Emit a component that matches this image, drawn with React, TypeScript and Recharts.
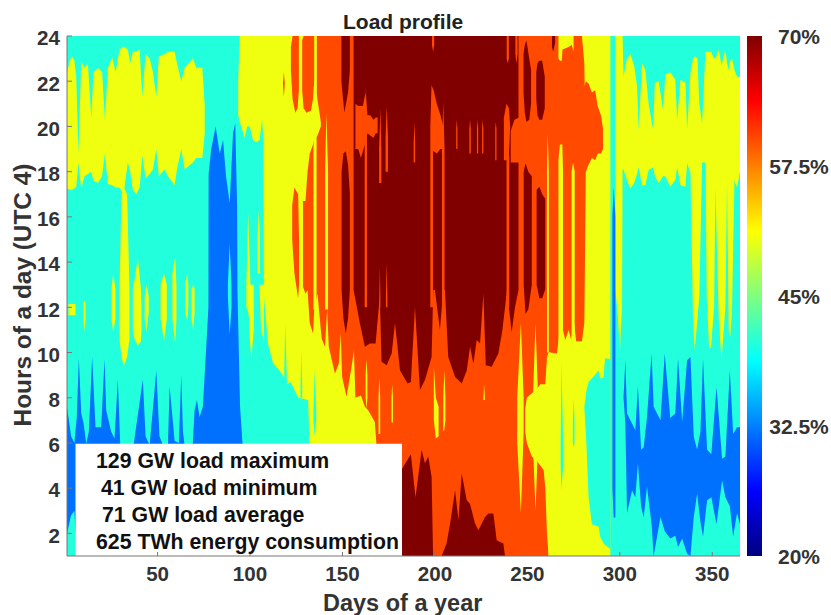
import React from "react";
import { AreaChart, Area, XAxis, YAxis, ReferenceArea } from "recharts";

type Row = number[]; // [day, low hour, high hour]

const CYAN = "#22FFDC";
const BLUE = "#0070FF";
const YELLOW = "#F0FF10";
const ORANGE = "#FF4A00";
const DARK = "#800000";

const dayTicks = [50, 100, 150, 200, 250, 300, 350];
const hourTicks = [2, 4, 6, 8, 10, 12, 14, 16, 18, 20, 22, 24];
const shareTicks = [20, 32.5, 45, 57.5, 70];
const boxLines = ["129 GW load maximum", "41 GW load minimum", "71 GW load average", "625 TWh energy consumption"];

const base: Row[] = [[1, 1, 24], [365, 1, 24]];
const scaleBand: Row[] = [[0, 20, 70], [1, 20, 70]];

const yellowWinter: Row[] = [
  [1, 17.26, 22.37], [2.5, 17.2, 22.9], [3.8, 17.2, 23.1], [5, 17.25, 22.9], [6, 17.33, 22.2], [7.2, 18.37, 18.8], [8.7, 17.26, 22.9], [10.5, 17.8, 22.6],
  [12.3, 17.9, 22.8], [14.1, 18, 20.4], [15.3, 17.6, 22.4], [17.7, 17.5, 22.6], [20, 17.8, 22.4], [21.5, 18.8, 20.3],
  [23.1, 17.45, 22.6], [25.5, 17.4, 23.05], [27.3, 17.3, 22.4], [29.4, 17.3, 23.4], [31.6, 17, 23.55], [33.9, 18.4, 23.4],
  [35.2, 18, 22.8], [36.6, 17.2, 23.3], [38.4, 17, 23.3], [40.3, 17.3, 23.4], [41.7, 18.7, 21.3], [43.5, 17.7, 23.2],
  [45.7, 17.9, 23], [47.5, 18.1, 22.4], [49.3, 19, 21.3], [50.7, 17.8, 23.1], [53.8, 18.1, 23.2], [55.6, 17.8, 23.3],
  [59.2, 17.4, 23.3], [60.5, 18.1, 22.8], [62.8, 19, 22], [64.6, 18.1, 22.6], [69.1, 18.4, 23], [70.9, 18.6, 22.6],
  [74.2, 18.6, 22.6], [75.5, 19.7, 20.9],
];
const yellowColA: Row[] = [[29.4, 10.6, 12.8], [30.5, 9.8, 17], [31.7, 9.4, 17.3], [33.5, 9.8, 17], [34.8, 10.6, 12.8]];
const yellowColB: Row[] = [[36.6, 11, 12.8], [37.5, 10.6, 13.2], [39.3, 10.3, 14.2], [41, 10.5, 12.8], [41.3, 11, 12]];
const yellowColC: Row[] = [[25, 11.5, 12.8], [26, 10.9, 13.5], [27.2, 11.5, 12.8]];
const yellowColD: Row[] = [[43, 11.5, 12.5], [44, 10.9, 13], [45.2, 11.8, 12.5]];
const yellowColE: Row[] = [[51.6, 11.5, 13], [53.5, 10.5, 13.5], [55, 11.5, 13]];
const yellowColF: Row[] = [[58, 11.5, 13.5], [59.5, 10.4, 14.2], [60.2, 11.5, 13]];
const yellowColG: Row[] = [[65, 11.8, 13], [66, 11.4, 13.5], [66.6, 12, 13]];
const yellowColH: Row[] = [[68.3, 11.5, 12.8], [69.3, 11, 13], [70, 11.8, 12.8]];
const yellowSquare: Row[] = [[1.8, 11.65, 12.15], [5.6, 11.65, 12.15]];
const yellowThin: Row[] = [[10, 11.5, 12.2], [10.5, 10.9, 12.3], [11, 11.5, 12.2]];
const yellowSpringA: Row[] = [[98, 12, 13], [99, 11.8, 16.2], [100.2, 11, 13]];
const yellowSpringB: Row[] = [[104, 13.5, 15], [104.7, 13.5, 16.3], [105.4, 13.5, 15]];
const yellowSpringC: Row[] = [[99.5, 11, 13], [100.7, 9.7, 13], [102, 11, 13]];
const yellowSpringD: Row[] = [[105, 13, 13], [106, 11, 13], [107.5, 10.5, 13]];

const yellowCentral: Row[] = [
  [93.6, 20.5, 22], [94.4, 20.2, 24], [96, 19.8, 24], [97, 19.5, 24], [98.5, 20, 24], [99.8, 20, 24], [101.6, 19.4, 24],
  [103.4, 19.3, 24], [105.2, 19.4, 24], [106.5, 20.3, 24], [107.2, 19.5, 24], [107.5, 12.5, 24], [109.7, 10.4, 24],
  [112.5, 9.5, 24], [115, 9.3, 24], [118.5, 8.9, 24], [119, 11.3, 24], [120, 8.6, 24], [122, 8.7, 24], [126, 8, 24],
  [131.4, 7.9, 24], [131.8, 6.9, 24], [132, 6, 24], [132.1, 1, 24], [294.9, 1, 24],
];
const yellowAutumn: Row[] = [
  [297.6, 12.8, 24], [299, 11.5, 24], [300, 10, 24], [301.2, 12, 24], [301.5, 18.1, 24], [302, 18.1, 22.2], [303.9, 17.6, 23],
  [305.7, 17.26, 23.2], [307.8, 17.5, 22.67], [309.3, 17.9, 21.8], [310.2, 18.2, 19.85], [312, 17.4, 22.8], [313.8, 17.4, 22.5],
  [315.6, 18.07, 21], [318, 18.2, 19.85], [318.9, 17.8, 21.93], [321, 17.5, 22], [323.4, 17.8, 20.7], [324.6, 17.8, 22.3],
  [327.3, 17.33, 22.4], [330, 17.63, 22.07], [331, 18.2, 20.3], [332.8, 17.4, 22.07], [335.5, 17.33, 21.93], [336.4, 18.37, 19.85],
  [338.2, 17.93, 22.37], [339.6, 11.5, 23], [340.5, 10.1, 23.1], [342, 11.5, 23], [343, 12.5, 21], [344.5, 18.4, 20.15],
  [346.3, 18.4, 23.3], [347, 12.5, 23.3], [348.3, 10.2, 23.3], [349.3, 10.2, 23.3], [351, 12, 23], [351.7, 17.3, 23],
  [353.5, 11.5, 23.4], [355, 9.66, 22.7], [357.1, 12, 23.4], [358, 17.5, 22.8], [358.9, 11, 22.5], [359.8, 10.7, 22.9],
  [360.7, 12, 23], [362, 17.6, 22.5], [363.4, 17.3, 22.2], [365, 18, 22.2],
];

const cyanPatch: Row[] = [
  [280.8, 7.6, 7.6], [281.9, 6, 8.3], [283.1, 3.6, 8.7], [284.9, 2.4, 8.85], [288.5, 2.3, 9.2], [289.4, 1.85, 8.85],
  [291.2, 1.55, 8.9], [292, 1.5, 9.75], [294.9, 1.3, 9.7],
];
const cyanSliverA: Row[] = [[134.3, 6.9, 7.5], [135, 6.3, 9.2], [135.8, 7, 7.5]];
const cyanSliverB: Row[] = [[127.3, 8, 8.5], [127.8, 8, 10.1], [128.2, 8, 8.5]];
const cyanSliverC: Row[] = [[268, 5, 6], [268.4, 3.9, 9.6], [269.4, 5, 6]];
const cyanSliverD: Row[] = [[274.6, 6, 7], [275, 5.8, 8], [275.5, 6, 7]];

const orangeDot: Row[] = [[117.8, 21.9, 21.9], [118.3, 21.3, 22.4], [118.8, 21.9, 21.9]];
const orangeLobeA: Row[] = [[122.1, 22.5, 23.5], [123, 21.2, 24], [124.5, 20.6, 24], [125.7, 20.8, 24], [126.4, 21.6, 24]];
const orangeLobeB: Row[] = [[128.2, 21.6, 23.8], [129, 20.8, 24], [130.5, 20.6, 24], [133, 20.7, 24], [134, 21.2, 24], [134.7, 22, 24]];
const orangeUpper: Row[] = [[136, 21.5, 24], [136.8, 21, 24], [138.7, 20, 24], [139, 20, 24]];
const orangeColumn: Row[] = [[122.8, 15, 16.5], [124, 13.5, 17.3], [126, 12.4, 17], [126.5, 13, 15]];
const orangeMain: Row[] = [
  [128.7, 12.9, 16.7], [130, 12.6, 16.7], [131.1, 12.76, 18], [132.3, 11.3, 18.8], [134.1, 10.84, 19.2], [134.7, 11.9, 19.4],
  [136.5, 12.6, 19.6], [138.3, 11, 20], [138.8, 10.6, 24], [140.5, 10.25, 24], [141.7, 11.9, 24], [142.6, 10.25, 24],
  [145.9, 9.07, 24], [148, 9.5, 24], [149.1, 10.84, 24], [149.8, 8.92, 24], [152.2, 8.04, 24], [154.9, 9.37, 24],
  [156.2, 10.1, 24], [157, 8, 24], [160, 8.1, 24], [162.1, 7.6, 24], [163.9, 7.45, 24], [167.5, 6.93, 24], [168.4, 5.9, 24],
  [169, 1, 24], [261.4, 1, 24], [261.5, 10, 24], [262.4, 10, 24], [266, 9.96, 24], [267.8, 11.2, 24], [269.2, 11, 24],
  [270.5, 10.55, 24], [272.3, 11, 24], [273.7, 10.55, 24], [275, 11.5, 24], [276.4, 10.5, 24], [279.5, 10.5, 24],
  [280.8, 11.3, 22.8], [281, 12.8, 21.8], [281.6, 18, 22], [283.1, 18.3, 21.9], [284.9, 18.6, 21.5], [286.7, 18.5, 21.6],
  [288, 18.8, 20.9], [289.8, 18.8, 20.5], [290.9, 19, 19.9],
];

const yellowTongue: Row[] = [
  [248.8, 6.5, 7.5], [249.7, 6, 8], [252.4, 5.4, 8.2], [255.1, 5.2, 8.4], [257, 5, 8.6], [258.8, 4.8, 8.6], [259.7, 4, 8.6],
  [260.6, 2, 9.8], [261.5, 1, 10], [262.4, 1, 10],
];
const yellowSlivers: Row[][] = [
  [[244.5, 6, 8], [246.5, 2.9, 11.3], [248, 6.5, 8]],
  [[253, 6, 8], [254.4, 3, 11.3], [255.8, 6, 8]],
  [[260.6, 10, 18], [261, 10, 19.7], [261.6, 10, 18]],
  [[266.8, 10, 18.5], [267.6, 10, 19.2], [268.9, 10, 19.2], [269.3, 10, 18]],
  [[273.9, 10, 18], [274.7, 10, 18.4], [275.6, 10, 18]],
  [[266.8, 23, 24], [267.7, 22.9, 24], [268.6, 22.9, 24], [269, 23.4, 24], [272, 23.5, 24], [274, 23.6, 24], [275, 23.3, 24]],
  [[134.3, 11.9, 19], [135.5, 11.9, 24], [136, 11.9, 24]],
  [[140.6, 11.9, 18], [141.3, 11.9, 20.6], [142.2, 11.9, 18]],
  [[162.5, 8, 9], [163, 7.5, 9.7], [163.5, 8, 9]],
  [[169.5, 6.4, 8], [169.9, 6.4, 8.9], [170.4, 6.4, 8]],
  [[176.5, 6.9, 8], [176.9, 6.9, 8.6], [177.3, 6.9, 8]],
  [[199.4, 7, 9.4], [200.5, 6.2, 8], [202, 6.3, 7.6]],
  [[204.5, 6.5, 8], [205.1, 6.6, 9.2], [205.7, 7, 8]],
  [[226.2, 7.9, 8], [226.6, 7.9, 8.6], [227, 7.9, 8]],
];

const darkMain: Row[] = [
  [156, 12.76, 24], [159.4, 11.3, 24], [162.1, 10.25, 24], [164.8, 10.4, 24], [167.9, 10.4, 24], [170.2, 12.5, 24], [171.1, 9.59, 24],
  [173.9, 9.44, 24], [176.6, 9.96, 24], [178.4, 11.3, 24], [181.1, 9.2, 24], [185.2, 8.63, 24], [187, 8.7, 24], [189.2, 12, 24],
  [191.9, 8.34, 24], [194.6, 8.78, 24], [198.2, 9.8, 24], [199.1, 12.76, 24], [200, 12.76, 24], [202.7, 11, 24], [204.5, 12.76, 24],
  [205.4, 12.76, 24], [207.2, 9.8, 24], [210.9, 8.92, 24], [214.5, 8.63, 24], [217.2, 9.2, 24], [219, 10.25, 24], [220.8, 9.5, 24],
  [222.6, 10.55, 24], [224.4, 10.4, 24], [226.2, 12.6, 24], [227.5, 9.44, 24], [230.7, 9.37, 24], [234.3, 9.96, 24], [236.5, 11, 24],
  [239, 12.76, 24], [241.5, 10.9, 24], [243.3, 12, 24], [245.2, 12.76, 24],
];
const darkLeftTop: Row[] = [[149.4, 22, 24], [151, 20.6, 24], [153, 21.5, 24], [154, 22.5, 24]];
const darkLeftLow: Row[] = [[149.5, 12.76, 18], [150.5, 11.5, 18.8], [151.8, 10.84, 18.9], [153, 11.5, 18.3], [154, 12.76, 17]];
const darkBottomA: Row[] = [
  [175, 1, 4.8], [181.8, 1, 4.8], [187, 1, 5.5], [189.5, 1, 3.6], [192.8, 1, 5.7], [194.6, 1, 5.1], [196.4, 1, 5.4], [198.2, 1, 4.5], [199, 1, 1],
];
const darkBottomB: Row[] = [
  [203.6, 1, 1], [206.3, 1, 1.55], [208.2, 1, 2.44], [210.9, 1, 3.91], [212.7, 1, 2.6], [214.5, 1, 4.65], [217.2, 1, 3.47], [219, 1, 3.3],
  [221.7, 1, 2.44], [223.5, 1, 2.14], [225.3, 1, 2.44], [227.1, 1, 2.73], [228.9, 1, 2.88], [231.6, 1, 2.88], [233.4, 1, 1.7], [237, 1, 1.55], [237.9, 1, 1],
];
const darkLobes: Row[][] = [
  [[247.9, 21.5, 23.2], [248.6, 20.6, 23.6], [249.5, 20.2, 23.8], [251, 20.3, 23], [252, 21, 22.5]],
  [[254.8, 21.2, 22.4], [255.5, 20.5, 22.8], [256.5, 20.3, 22.9], [258, 20.3, 22.9], [259.4, 20.8, 22.2]],
  [[263.3, 23.5, 24], [264, 23.3, 24], [265, 23.7, 24]],
  [[248, 13, 18], [249, 11.7, 18.37], [250.5, 11.9, 18], [252.4, 13, 17.8]],
  [[255, 13, 17.2], [256.5, 12.4, 17.33], [258, 12.4, 17], [259.7, 12.8, 16.8]],
];

const orangeOverDark: Row[][] = [
  [[157, 19, 21], [158.5, 19, 20.9], [160, 18.6, 20.9], [161, 18.9, 20.9], [162.5, 19.3, 21.5], [163.5, 19.7, 20.5], [165, 19.6, 20.5], [166.8, 19.5, 20.3], [168, 19.7, 20.4], [169, 19.7, 20.4]],
  [[162, 12, 19], [162.7, 12, 21.8], [163.3, 12, 19]],
  [[169.8, 17.5, 19], [170.5, 17.5, 20.8], [171, 17.5, 19]],
  [[173.3, 18, 19.5], [173.9, 18, 20.9], [174.6, 18, 19.5]],
  [[173.5, 12, 12.5], [173.9, 12, 14], [174.3, 12, 12.5]],
  [[169.9, 12, 12.5], [170.2, 12, 13.8], [170.5, 12, 12.5]],
  [[188.5, 18.4, 19.3], [188.9, 18.4, 20.2], [189.3, 18.4, 19.3]],
  [[197.5, 12, 20], [198.2, 12, 21.9], [199, 12, 19.5]],
  [[198.2, 18.9, 21.8], [199.3, 18.9, 21.6], [201, 18.8, 21], [203, 19, 20.5], [204.5, 19, 20]],
  [[203.8, 12, 19], [204.5, 12, 21.1], [205.2, 12, 19]],
  [[198.4, 23.6, 24], [199, 23.3, 24], [199.6, 23.6, 24]],
  [[211.5, 19, 19.9], [211.8, 19, 20.3], [212.2, 19, 19.9]],
  [[218.6, 18.8, 19.9], [219, 18.8, 20.3], [219.4, 18.8, 19.9]],
  [[222.7, 18.8, 19.9], [223, 18.8, 20.3], [223.4, 18.8, 19.9]],
  [[225.5, 18.8, 19.9], [225.8, 18.8, 20.3], [226.2, 18.8, 19.9]],
  [[232.6, 18.5, 19.9], [232.9, 18.5, 20.2], [233.3, 18.5, 19.9]],
  [[237.3, 18.5, 20.4], [238.7, 18.5, 21], [240, 18.7, 20.8], [240.7, 20, 20]],
  [[238.7, 12, 18.7], [239.5, 12, 19], [240.2, 12, 18.7]],
  [[238.8, 23, 24], [239.4, 22.8, 24], [240, 23, 24]],
  [[241, 18.4, 19.8], [243, 18.4, 20.3], [245.5, 18.4, 20.4]],
  [[243.5, 23.2, 24], [244.1, 22.8, 24], [244.7, 23.2, 24]],
];

const blueWinter: Row[] = [
  [1, 2, 7.6], [3.2, 2.8, 6.3], [5, 3, 6], [6.3, 1, 7.15], [7.4, 1, 9.75], [8.7, 1, 7.3], [10, 1, 6.86], [11.4, 1, 5.97], [12.8, 1, 6.5],
  [14.6, 1, 9.8], [16.4, 1, 6.7], [19.5, 1, 6.7], [21.3, 1, 9.7], [22.2, 1, 7.45], [24.9, 1, 6.5], [26.7, 1, 6.2], [28.5, 1, 8.8],
  [29.8, 1, 5.9], [37, 1, 5.9], [42, 1, 8.8], [43.5, 1, 6.3], [45.7, 1, 5.9], [49.3, 1, 9.2], [51, 1, 6.3], [52.9, 1, 5.9], [55.6, 1, 5.9],
  [56.5, 1, 8.5], [59.2, 1, 6.1], [61.5, 1, 6], [62.8, 1, 9], [63.7, 1, 6.5], [64.6, 1, 5.9], [69, 1, 5.9], [70, 1, 7.45], [71.3, 1, 7.9],
  [72.7, 1, 7.15], [74.5, 1, 7.6], [77.5, 1, 12], [77.6, 1, 17.9], [79, 1, 19], [81.4, 1, 20], [83.6, 1, 18.8], [85.4, 1, 19.4], [87, 1, 17.8],
  [89, 1, 16.6], [90.8, 1, 19.7], [92, 1, 20.15], [93, 1, 16.5], [93.2, 1, 12.7], [94.6, 1, 7.6], [96, 1, 5.9], [96.1, 1, 1],
];
const blueAutumnLine: Row[] = [[296, 4, 16], [296.7, 2.7, 17.3], [297.6, 2.7, 16]];
const blueAutumn: Row[] = [
  [302, 8, 8], [303, 6.86, 9.66], [303.9, 2.9, 7.3], [306.6, 3.9, 6.86], [308.4, 3.6, 6.56], [309.8, 5.1, 8.5], [311.5, 3.2, 5.7],
  [312.9, 2.7, 5.8], [314.7, 4.06, 7.15], [317.2, 2.4, 9.96], [318.3, 1, 7.6], [322, 2.73, 7], [324.3, 2.1, 9.96], [327.3, 1.77, 7.1],
  [330, 1.9, 7.3], [331.5, 1.4, 9.74], [333.7, 1.77, 6.93], [336.4, 1.1, 9.66], [338.2, 1, 9.8], [340, 2.73, 6.27], [341.8, 3.76, 5.7],
  [343.6, 2.5, 6.5], [345, 1.85, 9.74], [347.2, 3.47, 5.7], [349.5, 3.6, 5.5], [352.3, 2.4, 8.48], [355.3, 4.35, 5.3], [357.1, 3.6, 5.4],
  [359.5, 3.2, 9.2], [361.3, 1.85, 6.4], [363.4, 2.9, 6.7], [365, 2.4, 6.7],
];
const cyanDiamond: Row[] = [[88, 12.5, 13], [89, 10.8, 14.8], [90, 12, 13]];

const layers: [Row[], string][] = [
  [base, CYAN],
  [yellowWinter, YELLOW], [yellowColA, YELLOW], [yellowColB, YELLOW], [yellowColC, YELLOW], [yellowColD, YELLOW], [yellowColE, YELLOW],
  [yellowColF, YELLOW], [yellowColG, YELLOW], [yellowColH, YELLOW], [yellowSquare, YELLOW], [yellowThin, YELLOW],
  [yellowSpringA, YELLOW], [yellowSpringB, YELLOW], [yellowSpringC, YELLOW], [yellowSpringD, YELLOW],
  [yellowCentral, YELLOW], [yellowAutumn, YELLOW],
  [cyanPatch, CYAN], [cyanSliverA, CYAN], [cyanSliverB, CYAN],
  [orangeDot, ORANGE], [orangeLobeA, ORANGE], [orangeLobeB, ORANGE], [orangeUpper, ORANGE], [orangeColumn, ORANGE], [orangeMain, ORANGE],
  [yellowTongue, YELLOW], ...yellowSlivers.map((r): [Row[], string] => [r, YELLOW]),
  [cyanSliverC, CYAN], [cyanSliverD, CYAN],
  [darkMain, DARK], [darkLeftTop, DARK], [darkLeftLow, DARK], [darkBottomA, DARK], [darkBottomB, DARK],
  ...darkLobes.map((r): [Row[], string] => [r, DARK]),
  ...orangeOverDark.map((r): [Row[], string] => [r, ORANGE]),
  [blueWinter, BLUE], [blueAutumnLine, BLUE], [blueAutumn, BLUE], [cyanDiamond, CYAN],
];

const FONT = "'Liberation Sans', Arial, sans-serif";
const tickStyle = { fontFamily: FONT, fontSize: 20.6, fontWeight: 700, fill: "#333333" };
const NoLabel = () => <g />;

const ShareTick = (props: any) => (
  <text x={52} y={props.y} dy="0.36em" textAnchor="middle" style={{ ...tickStyle, fontSize: 21 }}>
    {props.payload.value}%
  </text>
);

const boxTextStyle = (left: number, top: number): React.CSSProperties => ({
  position: "absolute", left, top, fontFamily: FONT, fontSize: 21.3, fontWeight: 700, color: "#111111", whiteSpace: "nowrap", lineHeight: "24px",
});
const boxPositions = [[96, 449], [101, 476], [102, 503], [96, 530]];

export default function App() {
  return (
    <div style={{ position: "absolute", left: 0, top: 0, width: 831, height: 615, background: "#ffffff", overflow: "hidden" }}>
      <AreaChart width={831} height={615} margin={{ top: 36, right: 91, bottom: 0, left: 0 }}>
        <XAxis
          type="number" dataKey="day" domain={[1, 365]} ticks={dayTicks} allowDataOverflow height={59}
          tick={{ ...tickStyle, dy: 1 }} tickSize={-4} tickMargin={13} stroke="#777777"
        />
        <XAxis
          xAxisId="top" orientation="top" type="number" dataKey="day" domain={[1, 365]} ticks={dayTicks} allowDataOverflow height={0}
          tick={<NoLabel />} tickSize={-4} tickMargin={0} stroke="#777777"
        />
        <YAxis
          type="number" domain={[1, 24]} ticks={hourTicks} width={67} allowDataOverflow
          tick={{ ...tickStyle, dy: 2 }} tickSize={-5} tickMargin={12} stroke="#777777"
        />
        <YAxis
          yAxisId="right" orientation="right" type="number" domain={[1, 24]} ticks={hourTicks} width={0} allowDataOverflow
          tick={<NoLabel />} tickSize={-5} tickMargin={0} stroke="#777777"
        />
        {layers.map(([rows, color], i) => (
          <Area
            key={i}
            data={rows.map(([day, lo, hi]) => ({ day, band: [lo, hi] }))}
            dataKey="band"
            type="linear"
            fill={color}
            fillOpacity={1}
            stroke="none"
            dot={false}
            activeDot={false}
            isAnimationActive={false}
          />
        ))}
        <ReferenceArea x1={5.6} x2={182.2} y1={1} y2={5.97} fill="#ffffff" fillOpacity={1} stroke="none" ifOverflow="visible" />
      </AreaChart>

      <div style={{ position: "absolute", left: 747, top: 0 }}>
        <AreaChart width={84} height={615} margin={{ top: 36, right: 0, bottom: 59, left: 0 }}>
          <defs>
            <linearGradient id="jet" x1="0" y1="1" x2="0" y2="0">
              <stop offset="0" stopColor="#000080" />
              <stop offset="0.125" stopColor="#0000FF" />
              <stop offset="0.375" stopColor="#00FFFF" />
              <stop offset="0.625" stopColor="#FFFF00" />
              <stop offset="0.875" stopColor="#FF0000" />
              <stop offset="1" stopColor="#800000" />
            </linearGradient>
          </defs>
          <XAxis type="number" dataKey="pos" domain={[0, 1]} hide />
          <YAxis
            orientation="right" type="number" domain={[20, 70]} ticks={shareTicks} width={69}
            axisLine={false} tickLine={false} tick={<ShareTick />} interval={0}
          />
          <Area
            data={scaleBand.map(([pos, lo, hi]) => ({ pos, band: [lo, hi] }))}
            dataKey="band" type="linear" fill="url(#jet)" fillOpacity={1} stroke="none"
            dot={false} activeDot={false} isAnimationActive={false}
          />
        </AreaChart>
      </div>

      <div style={{ position: "absolute", left: 343, top: 10, fontFamily: FONT, fontSize: 21, fontWeight: 700, color: "#222222", whiteSpace: "nowrap", lineHeight: "24px" }}>
        Load profile
      </div>
      <div style={{ position: "absolute", left: 323, top: 590, fontFamily: FONT, fontSize: 23.5, fontWeight: 700, color: "#333333", whiteSpace: "nowrap", lineHeight: "26px" }}>
        Days of a year
      </div>
      <div style={{ position: "absolute", left: 23, top: 295, width: 0, height: 0 }}>
        <div style={{ transform: "translate(-50%,-50%) rotate(-90deg)", fontFamily: FONT, fontSize: 24.4, fontWeight: 700, color: "#333333", whiteSpace: "nowrap", lineHeight: "26px", width: "max-content" }}>
          Hours of a day (UTC 4)
        </div>
      </div>
      {boxLines.map((line, i) => (
        <div key={line} style={boxTextStyle(boxPositions[i][0], boxPositions[i][1])}>{line}</div>
      ))}
    </div>
  );
}
